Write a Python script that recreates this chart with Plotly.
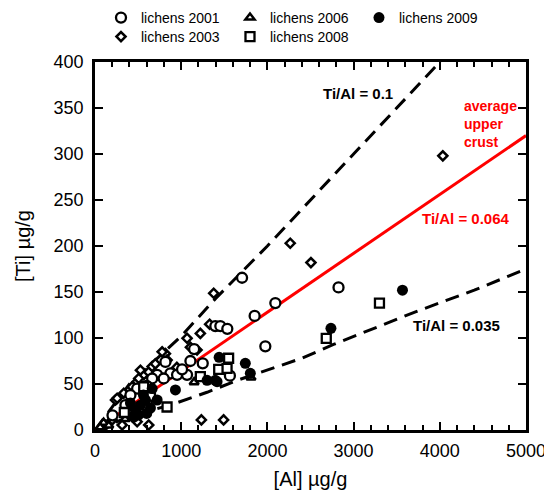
import plotly.graph_objects as go

# ---------------- data ----------------
al_2001 = [2825, 2092, 1706, 1852, 1976, 1396, 1454, 1535, 1565, 1107, 1250, 875, 952, 1068,
           721, 663, 817, 797, 489, 411, 353, 203, 1150, 600, 1010]
ti_2001 = [155, 138, 165.5, 124, 91, 113, 113, 110, 59, 75, 72.5, 61.6, 60, 60,
           60, 56, 74, 56, 45, 38, 27, 16, 88, 48, 66]

al_2003 = [4035, 2505, 2265, 1377, 1492, 1234, 1330, 1068, 1222, 1184, 817, 779, 238, 334,
           431, 489, 565, 623, 663, 507, 257, 121, 199, 489, 623, 315, 836, 1107, 527, 700,
           950, 380]
ti_2003 = [298, 182, 203, 148.6, 11, 11, 115, 99.7, 105, 87, 83, 85, 32.6, 40,
           47, 52.5, 60, 63, 69, 56, 34.5, 5, 11, 9, 5.4, 5.4, 76, 90, 65, 72,
           68, 20]

al_2006 = [100, 160, 60, 1150, 350, 1810]
ti_2006 = [8, 5, 3, 52, 12, 57]

al_2008 = [3300, 2683, 1550, 1435, 1532, 1222, 643, 340, 605, 836, 565]
ti_2008 = [138, 99.7, 78, 66, 67, 58, 36, 19, 27, 25, 47]

al_2009 = [3567, 2737, 1744, 1802, 1440, 1396, 1300, 1416, 933, 721, 663, 469, 527, 585,
           643, 504, 562, 411, 600, 450]
ti_2009 = [152, 110.5, 72.5, 61.6, 79, 54, 54, 52.5, 43.5, 32.6, 45, 21.7, 27, 32.6,
           23.9, 16.3, 38, 29.3, 18, 14]

# reference lines
crust_al = [0, 5000]
crust_ti = [0, 320]
upper_al = [0, 250, 400, 700, 1000, 1400, 2000, 3000, 4100]
upper_ti = [0, 32, 50, 76, 102, 143, 200, 300, 410]
lower_al = [0, 450, 900, 1300, 1650, 2034, 2400, 2767, 3733, 4400, 5000]
lower_ti = [0, 16, 28, 41, 54, 66, 78, 93, 129, 152, 175]

FONT = "Liberation Sans, Arial, sans-serif"

fig = go.Figure()

# lines
fig.add_trace(go.Scatter(x=upper_al, y=upper_ti, mode="lines", showlegend=False,
                         line=dict(color="black", width=3, dash="14px,8px"), hoverinfo="skip"))
fig.add_trace(go.Scatter(x=lower_al, y=lower_ti, mode="lines", showlegend=False,
                         line=dict(color="black", width=3, dash="14px,8px"), hoverinfo="skip"))
fig.add_trace(go.Scatter(x=crust_al, y=crust_ti, mode="lines", showlegend=False,
                         line=dict(color="#ff0000", width=3), hoverinfo="skip"))

def add_pts(x, y, name, symbol, size, rank, legend, fill="white", lw=2.3):
    fig.add_trace(go.Scatter(
        x=x, y=y, mode="markers", name=name, legendrank=rank, legend=legend, cliponaxis=False,
        marker=dict(symbol=symbol, size=size, color=fill,
                    line=dict(color="black", width=lw))))

add_pts(al_2003, ti_2003, "lichens 2003", "diamond", 7, 4, "legend2", lw=2.5)
add_pts(al_2001, ti_2001, "lichens 2001", "circle", 10, 1, "legend")
add_pts(al_2006, ti_2006, "lichens 2006", "triangle-up", 8, 2, "legend", lw=2.5)
add_pts(al_2008, ti_2008, "lichens 2008", "square", 9, 5, "legend2")
add_pts(al_2009, ti_2009, "lichens 2009", "circle", 11, 3, "legend", fill="black", lw=0)

axis_common = dict(showline=True, linecolor="black", linewidth=2.5, mirror="ticks",
                   ticks="inside", ticklen=8, tickwidth=2, tickcolor="black",
                   showgrid=False, zeroline=False,
                   tickfont=dict(family=FONT, size=18, color="black"))

fig.update_xaxes(range=[0, 5000], dtick=1000, tick0=0, ticklabelstandoff=3,
                 minor=dict(dtick=200, ticks="inside", ticklen=5, tickwidth=2, tickcolor="black"),
                 title=dict(text="[Al] µg/g", font=dict(family=FONT, size=20, color="black"), standoff=12),
                 **axis_common)
fig.update_yaxes(range=[0, 400], dtick=50, tick0=0, ticklabelstandoff=5,
                 title=dict(text="[Ti] µg/g", font=dict(family=FONT, size=20, color="black"), standoff=18),
                 **axis_common)

ann_font_k = dict(family=FONT, size=15, color="black")
ann_font_r = dict(family=FONT, size=15, color="#ff0000")
annotations = [
    dict(x=3051, y=366, text="<b>Ti/Al = 0.1</b>", font=ann_font_k),
    dict(x=4307, y=230, text="<b>Ti/Al = 0.064</b>", font=ann_font_r),
    dict(x=4191, y=114, text="<b>Ti/Al = 0.035</b>", font=ann_font_k),
    dict(x=4258, y=332.6, text="<b>average<br>upper<br>crust</b>",
         font=dict(family=FONT, size=14, color="#ff0000"), xanchor="left", align="left"),
]
for a in annotations:
    a.setdefault("xanchor", "center")
    a.update(xref="x", yref="y", yanchor="middle", showarrow=False)

legend_common = dict(orientation="h", x=0.0139, xanchor="left", yanchor="middle",
                     entrywidth=84, entrywidthmode="pixels", traceorder="normal",
                     font=dict(family=FONT, size=14, color="black"),
                     bgcolor="rgba(0,0,0,0)", itemclick=False)

# page has an 8px body margin; figure is sized so it fills the 552x495 window
fig.update_layout(
    width=544, height=487,
    margin=dict(l=87, r=26, t=54, b=65, autoexpand=False),
    paper_bgcolor="white", plot_bgcolor="white",
    font=dict(family=FONT, color="black"),
    annotations=annotations,
    showlegend=True,
    legend=dict(y=1.1196, **legend_common),
    legend2=dict(y=1.068, **legend_common),
)

fig.write_html("out.html")
